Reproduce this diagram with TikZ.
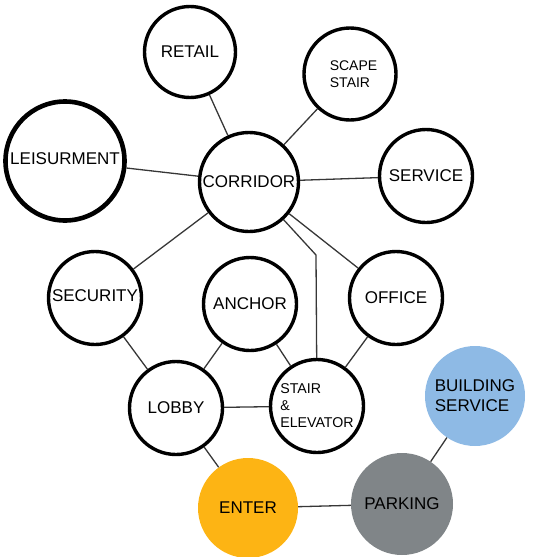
\documentclass[tikz,border=0pt]{standalone}
\usepackage{fontspec}
\setmainfont{Liberation Sans}
\definecolor{enterc}{RGB}{253,180,20}
\definecolor{parkc}{RGB}{128,133,136}
\definecolor{buildc}{RGB}{142,186,229}
\definecolor{linkc}{RGB}{55,55,55}
\begin{document}
\begin{tikzpicture}[x=1pt,y=-1pt,
  bub/.style={circle,draw=black,line width=3.4pt,fill=white,inner sep=0pt,
    font=\fontsize{17}{20}\selectfont,align=center},
  solid/.style={circle,draw=none,inner sep=0pt,
    font=\fontsize{17}{20}\selectfont,align=center},
  link/.style={draw=linkc,line width=1.3pt}]
\useasboundingbox (0,0) rectangle (541,557);
% nodes
\node[bub,minimum size=91pt] (retail) at (190,52) {RETAIL};
\node[bub,minimum size=92pt,font=\fontsize{14}{17}\selectfont] (scape) at (350,74) {\hspace*{7pt}SCAPE\\STAIR};
\node[bub,minimum size=119pt,line width=4.6pt] (leis) at (65,161) {\raisebox{4pt}{LEISURMENT}};
\node[bub,minimum size=99pt] (corr) at (249,182) {CORRIDOR};
\node[bub,minimum size=93pt] (serv) at (426,176) {SERVICE};
\node[bub,minimum size=93pt] (secu) at (95,298) {\raisebox{4pt}{SECURITY}};
\node[bub,minimum size=93pt] (anch) at (250,304) {ANCHOR};
\node[bub,minimum size=93pt] (offi) at (396,298) {OFFICE};
\node[bub,minimum size=93pt] (lobby) at (176,408) {LOBBY};
\node[bub,minimum size=93pt,align=left,font=\fontsize{14.2}{17}\selectfont] (stair) at (317,406) {STAIR\\\&\\ELEVATOR};
\node[solid,fill=buildc,minimum size=100pt,align=left] (build) at (475,396) {BUILDING\\SERVICE};
\node[solid,fill=parkc,minimum size=102pt] (park) at (402,504) {PARKING};
\node[solid,fill=enterc,minimum size=100pt] (enter) at (248,508) {ENTER};
\coordinate (bend) at (316,255);
% connectors
\draw[link] (retail) -- (corr);
\draw[link] (scape) -- (corr);
\draw[link] (leis) -- (corr);
\draw[link] (corr) -- (serv);
\draw[link] (corr) -- (secu);
\draw[link] (corr) -- (offi);
\draw[link] (corr) -- (bend) -- (stair);
\draw[link] (secu) -- (lobby);
\draw[link] (anch) -- (lobby);
\draw[link] (anch) -- (stair);
\draw[link] (offi) -- (stair);
\draw[link] (lobby) -- (stair);
\draw[link] (lobby) -- (enter);
\draw[link] (enter) -- (park);
\draw[link] (park) -- (build);
\end{tikzpicture}
\end{document}
